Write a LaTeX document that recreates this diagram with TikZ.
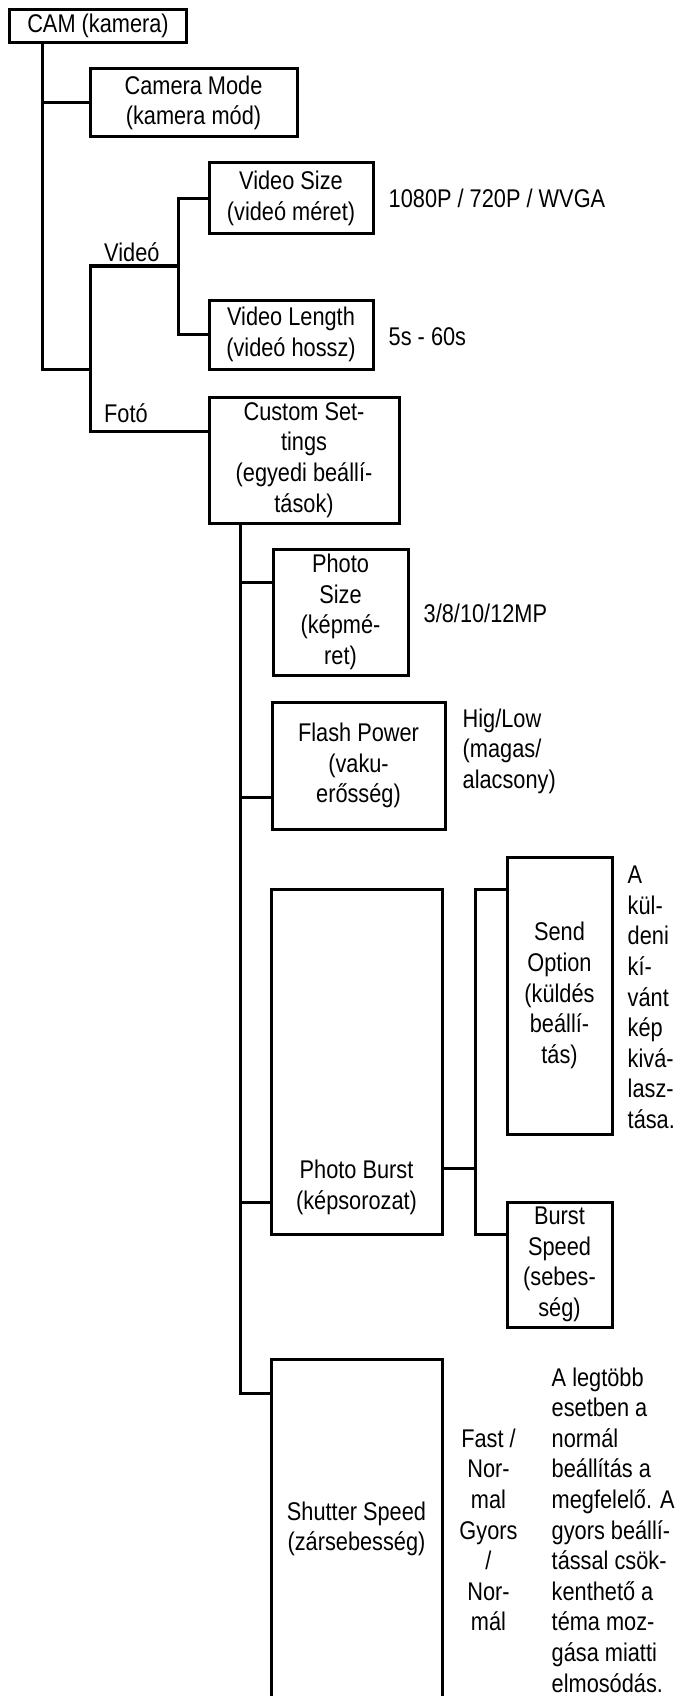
\documentclass[tikz,border=0pt]{standalone}
\usepackage{fontspec}
\setmainfont{Liberation Sans}[FakeStretch=0.85]
\usepackage{tikz}
\usetikzlibrary{calc}
\newcommand\menufont{\fontsize{25.6pt}{30.6pt}\selectfont}

\begin{document}
\begin{tikzpicture}[x=1pt, y=-1pt,
    menubox/.style={draw, line width=3pt, inner sep=0pt, align=center, font=\menufont},
    note/.style={inner sep=0pt, font=\menufont},
    wire/.style={line width=3pt}]
    \useasboundingbox (0,0) rectangle (675,1696);

    % Menu boxes
    \node[menubox, minimum width=177pt, minimum height=33pt] (cam) at (98,26) {CAM (kamera)};
    \node[menubox, minimum width=207pt, minimum height=68pt] (mode) at (193.5,103) {Camera Mode\\(kamera mód)};
    \node[menubox, minimum width=164pt, minimum height=71pt] (vsize) at (291,198.5) {Video Size\\(videó méret)};
    \node[menubox, minimum width=164pt, minimum height=69pt] (vlen) at (291,334.5) {Video Length\\(videó hossz)};
    \node[menubox, minimum width=190pt, minimum height=126pt] (cust) at (304,460) {Custom Set-\\tings\\(egyedi beállí-\\tások)};
    \node[menubox, minimum width=135pt, minimum height=126pt] (psize) at (340.5,612) {Photo\\Size\\(képmé-\\ret)};
    \node[menubox, minimum width=173pt, minimum height=127pt] (flash) at (358.5,765.5) {Flash Power\\(vaku-\\erősség)};
    \node[menubox, minimum width=171pt, minimum height=345pt] (burst) at (356.5,1061.5) {};
    \node[menubox, minimum width=105pt, minimum height=277pt] (send) at (559.5,995.5) {Send\\Option\\(küldés\\beállí-\\tás)};
    \node[menubox, minimum width=105pt, minimum height=125pt] (bspeed) at (559.5,1264.5) {Burst\\Speed\\(sebes-\\ség)};
    \node[menubox, minimum width=171pt, minimum height=340pt] (shut) at (356.5,1529) {Shutter Speed\\(zársebesség)};
    \node[note, align=center] (burstlbl) at ($(burst.south)+(0,-48)$) {Photo Burst\\(képsorozat)};

    % Branch labels and values
    \node[note, anchor=west] (vidlbl) at (104,252) {Videó};
    \node[note, anchor=west] (fotlbl) at (104,413) {Fotó};
    \node[note, anchor=west] (vsizeval) at ($(vsize.east)+(14,0)$) {1080P / 720P / WVGA};
    \node[note, anchor=west] (vlenval) at ($(vlen.east)+(14,2)$) {5s - 60s};
    \node[note, anchor=west] (psizeval) at ($(psize.east)+(14,1)$) {3/8/10/12MP};
    \node[note, anchor=west, align=left] (flashval) at ($(flash.east)+(16,-14.5)$) {Hig/Low\\(magas/\\alacsony)};
    \node[note, anchor=west, align=left] (sendval) at ($(send.east)+(14,2)$) {A\\kül-\\deni\\kí-\\vánt\\kép\\kivá-\\lasz-\\tása.};
    \node[note, align=center] (shutval) at ($(shut.east)+(45,1)$) {Fast /\\Nor-\\mal\\Gyors\\/\\Nor-\\mál};
    \node[note, anchor=west, align=left] (shutnote) at ($(shut.east)+(108,1)$) {A legtöbb\\esetben a\\normál\\beállítás a\\megfelelő. A\\gyors beállí-\\tással csök-\\kenthető a\\téma moz-\\gása miatti\\elmosódás.};

    % Junctions
    \coordinate (t0) at (42.5,369);
    \coordinate (vid) at (178.5,266);
    \coordinate (fot) at (90,431);
    \coordinate (t3) at (240.5,1393);
    \coordinate (t4) at (475,1168);
    \coordinate (psj) at ($(psize.west)+(0,-30)$);
    \coordinate (flj) at ($(flash.west)+(0,31.5)$);
    \coordinate (pbj) at ($(burst.west)+(0,140.5)$);
    \coordinate (pbo) at ($(burst.east)+(0,106.5)$);
    \coordinate (soj) at ($(send.west)+(0,-106.5)$);
    \coordinate (bsj) at ($(bspeed.west)+(0,-30.5)$);

    % CAM tree
    \draw[wire] (cam.south -| t0) -- (t0) -- (t0 -| fot);
    \draw[wire] (t0 |- mode.west) -- (mode.west);
    \draw[wire] (vid) -| (fot) -- (fot -| cust.west);
    \draw[wire] (vsize.west) -| (vid) |- (vlen.west);

    % Custom settings tree
    \draw[wire] (cust.south -| t3) -- (t3) -- (t3 -| shut.west);
    \draw[wire] (t3 |- psj) -- (psj);
    \draw[wire] (t3 |- flj) -- (flj);
    \draw[wire] (t3 |- pbj) -- (pbj);

    % Photo burst tree
    \draw[wire] (pbo) -- (t4);
    \draw[wire] (soj) -| (t4) |- (bsj);
\end{tikzpicture}
\end{document}
